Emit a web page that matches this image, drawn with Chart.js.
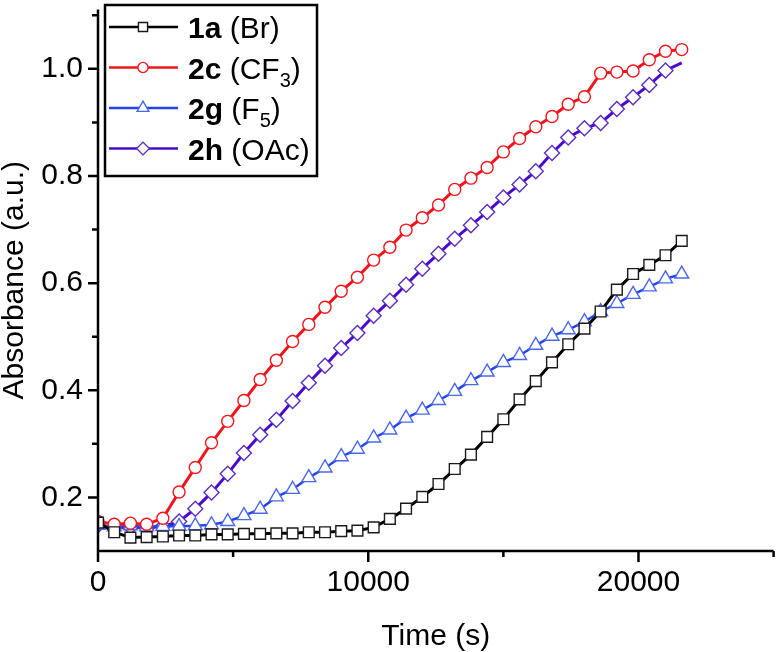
<!DOCTYPE html>
<html>
<head>
<meta charset="utf-8">
<script src="https://cdn.jsdelivr.net/npm/chart.js@4.4.0/dist/chart.umd.min.js"></script>
<style>
    html, body { margin: 0; padding: 0; background: #fff; }
</style>
</head>
<body>
<canvas id="myChart" width="783" height="652"></canvas>
<script>
// time points (s)
const times = [0, 600, 1200, 1800, 2400, 3000, 3600, 4200, 4800, 5400, 6000, 6600, 7200, 7800,
    8400, 9000, 9600, 10200, 10800, 11400, 12000, 12600, 13200, 13800, 14400, 15000, 15600,
    16200, 16800, 17400, 18000, 18600, 19200, 19800, 20400, 21000, 21600];

const abs1a = [0.153, 0.135, 0.125, 0.126, 0.127, 0.129, 0.129, 0.131, 0.131, 0.132, 0.132, 0.133,
    0.133, 0.135, 0.135, 0.137, 0.138, 0.144, 0.160, 0.179, 0.201, 0.225, 0.253, 0.280, 0.313,
    0.346, 0.383, 0.417, 0.452, 0.486, 0.515, 0.547, 0.588, 0.617, 0.634, 0.652, 0.679];

const abs2c = [0.155, 0.150, 0.152, 0.150, 0.161, 0.210, 0.256, 0.302, 0.342, 0.381, 0.420, 0.456,
    0.491, 0.523, 0.555, 0.585, 0.611, 0.643, 0.667, 0.699, 0.722, 0.746, 0.775, 0.796, 0.816,
    0.845, 0.870, 0.892, 0.911, 0.934, 0.948, 0.992, 0.994, 0.996, 1.017, 1.033, 1.036];

const abs2g = [0.148, 0.145, 0.147, 0.145, 0.146, 0.146, 0.147, 0.149, 0.155, 0.166, 0.178, 0.201,
    0.215, 0.237, 0.255, 0.276, 0.290, 0.311, 0.326, 0.348, 0.363, 0.381, 0.398, 0.418, 0.434,
    0.452, 0.465, 0.484, 0.501, 0.513, 0.528, 0.547, 0.562, 0.579, 0.593, 0.608, 0.617];

const abs2h = [0.148, 0.143, 0.145, 0.143, 0.146, 0.155, 0.179, 0.209, 0.244, 0.283, 0.317, 0.345,
    0.380, 0.414, 0.446, 0.479, 0.507, 0.539, 0.567, 0.597, 0.627, 0.655, 0.683, 0.708, 0.733,
    0.760, 0.784, 0.809, 0.843, 0.872, 0.889, 0.899, 0.925, 0.947, 0.970, 0.997, 1.011];

const xMajorTicks = [0, 10000, 20000];
const xMinorTicks = [5000, 15000, 25000];
const yMajorTicks = [0.2, 0.4, 0.6, 0.8, 1.0];
const yMinorTicks = [0.3, 0.5, 0.7, 0.9, 1.1];

// legend text: [text, style] with b = bold, n = normal, s = subscript
const legendLabels = [
    [['1a', 'b'], [' (Br)', 'n']],
    [['2c', 'b'], [' (CF', 'n'], ['3', 's'], [')', 'n']],
    [['2g', 'b'], [' (F', 'n'], ['5', 's'], [')', 'n']],
    [['2h', 'b'], [' (OAc)', 'n']]
];

const FONT = '"Liberation Sans", Arial, sans-serif';

function toPoints(values) {
    return values.map((v, i) => ({ x: times[i], y: v }));
}

const series = [
    { data: abs1a, line: '#000000', mark: '#1a1a1a', style: 'rect', radius: 7.6, width: 3 },
    { data: abs2c, line: '#f0161b', mark: '#f0161b', style: 'circle', radius: 6, width: 3 },
    { data: abs2g, line: '#2443ec', mark: '#4a68ee', style: 'triangle', radius: 8, width: 2.5 },
    { data: abs2h, line: '#4a0acb', mark: '#5a2fc4', style: 'rectRot', radius: 7.5, width: 3 }
];

const axesPlugin = {
    id: 'axesPlugin',
    afterDraw(chart) {
        const { ctx, chartArea: a, scales: { x, y } } = chart;
        ctx.save();
        ctx.strokeStyle = '#000';
        ctx.lineWidth = 2.5;
        ctx.beginPath();
        ctx.moveTo(a.left, a.top);
        ctx.lineTo(a.left, a.bottom);
        ctx.lineTo(a.right, a.bottom);
        xMajorTicks.forEach(v => {
            const px = x.getPixelForValue(v);
            ctx.moveTo(px, a.bottom);
            ctx.lineTo(px, a.bottom + 11);
        });
        xMinorTicks.forEach(v => {
            const px = x.getPixelForValue(v);
            ctx.moveTo(px, a.bottom);
            ctx.lineTo(px, a.bottom + 6);
        });
        yMajorTicks.forEach(v => {
            const py = y.getPixelForValue(v);
            ctx.moveTo(a.left, py);
            ctx.lineTo(a.left - 10, py);
        });
        yMinorTicks.forEach(v => {
            const py = y.getPixelForValue(v);
            ctx.moveTo(a.left, py);
            ctx.lineTo(a.left - 6, py);
        });
        ctx.stroke();
        ctx.restore();
    }
};

const legendPlugin = {
    id: 'legendPlugin',
    afterDraw(chart) {
        const ctx = chart.ctx;
        const box = { x: 105, y: 5, w: 212, h: 171 };
        ctx.save();
        ctx.fillStyle = '#fff';
        ctx.fillRect(box.x, box.y, box.w, box.h);
        ctx.strokeStyle = '#000';
        ctx.lineWidth = 2.5;
        ctx.strokeRect(box.x, box.y, box.w, box.h);

        legendLabels.forEach((parts, i) => {
            const s = series[i];
            const base = 38 + i * 40.5;
            const ly = base - 11;
            ctx.strokeStyle = s.line;
            ctx.lineWidth = 2.5;
            ctx.beginPath();
            ctx.moveTo(109, ly);
            ctx.lineTo(178, ly);
            ctx.stroke();
            ctx.fillStyle = '#fff';
            ctx.strokeStyle = s.mark;
            ctx.lineWidth = 1.4;
            Chart.helpers.drawPoint(ctx, { pointStyle: s.style, radius: s.radius * 0.85, borderWidth: 1.4, rotation: 0 }, 143, ly);

            let tx = 188;
            ctx.fillStyle = '#000';
            ctx.textBaseline = 'alphabetic';
            ctx.textAlign = 'left';
            parts.forEach(([t, st]) => {
                let dy = 0;
                if (st === 'b') ctx.font = 'bold 30px ' + FONT;
                else if (st === 's') { ctx.font = '20px ' + FONT; dy = 8; }
                else ctx.font = '30px ' + FONT;
                ctx.fillText(t, tx, base + dy);
                tx += ctx.measureText(t).width;
            });
        });
        ctx.restore();
    }
};

const ctx = document.getElementById('myChart').getContext('2d');

const chart = new Chart(ctx, { //eslint-disable-line
    type: 'line',
    data: {
        datasets: series.map(s => ({
            data: toPoints(s.data),
            borderColor: s.line,
            borderWidth: s.width,
            backgroundColor: '#ffffff',
            pointBackgroundColor: '#ffffff',
            pointBorderColor: s.mark,
            pointBorderWidth: 1.4,
            pointStyle: s.style,
            pointRadius: s.data.map((v, i) => (s.style === 'rectRot' && i === s.data.length - 1) ? 0 : s.radius),
            tension: 0,
            fill: false
        }))
    },
    options: {
        responsive: false,
        animation: false,
        devicePixelRatio: 1,
        layout: { padding: { top: 0, right: 4, bottom: 0, left: 0 } },
        plugins: { legend: { display: false }, tooltip: { enabled: false } },
        scales: {
            x: {
                type: 'linear',
                min: 0,
                max: 25000,
                afterBuildTicks: (scale) => { scale.ticks = xMajorTicks.map(v => ({ value: v })); },
                afterFit: (scale) => { scale.height = 101; },
                grid: { display: false, drawTicks: true, tickLength: 11 },
                border: { display: false },
                ticks: {
                    color: '#000',
                    font: { family: FONT, size: 30 },
                    padding: 3,
                    maxRotation: 0,
                    callback: (v) => String(v)
                },
                title: {
                    display: true,
                    text: 'Time (s)',
                    color: '#000',
                    font: { family: FONT, size: 30, lineHeight: 1 },
                    padding: { top: 0, bottom: 0 }
                }
            },
            y: {
                type: 'linear',
                min: 0.1,
                max: 1.111,
                afterBuildTicks: (scale) => { scale.ticks = yMajorTicks.map(v => ({ value: v })); },
                afterFit: (scale) => { scale.width = 98; scale.paddingTop = 0; },
                grid: { display: false, drawTicks: true, tickLength: 10 },
                border: { display: false },
                ticks: {
                    color: '#000',
                    font: { family: FONT, size: 30 },
                    padding: 5,
                    callback: (v) => Number(v).toFixed(1)
                },
                title: {
                    display: true,
                    text: 'Absorbance (a.u.)',
                    color: '#000',
                    font: { family: FONT, size: 30, lineHeight: 1 },
                    padding: { top: 0, bottom: 0 }
                }
            }
        }
    },
    plugins: [axesPlugin, legendPlugin]
});
</script>
</body>
</html>
